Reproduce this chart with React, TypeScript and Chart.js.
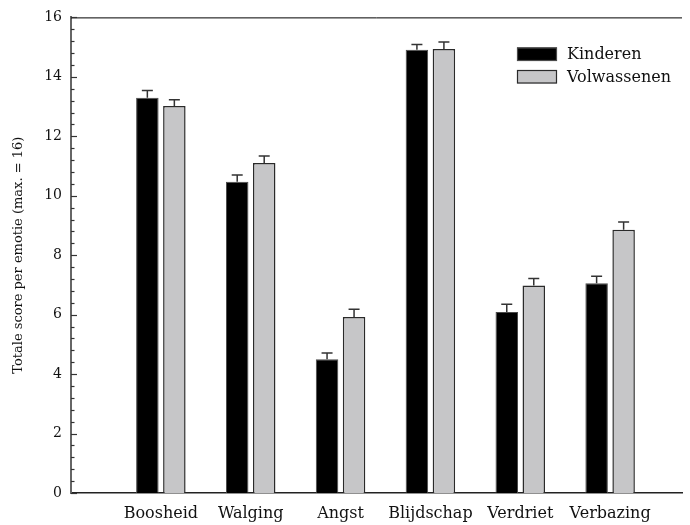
import React, { useEffect, useRef } from 'react';
import { Chart, registerables } from 'chart.js';

Chart.register(...registerables);

const categories = ['Boosheid', 'Walging', 'Angst', 'Blijdschap', 'Verdriet', 'Verbazing'];
const seriesNames = ['Kinderen', 'Volwassenen'];
const kinderen = [13.3, 10.47, 4.5, 14.91, 6.09, 7.06];
const kinderenErr = [0.24, 0.23, 0.21, 0.18, 0.26, 0.23];
const volwassenen = [13.02, 11.1, 5.92, 14.94, 6.98, 8.86];
const volwassenenErr = [0.21, 0.24, 0.26, 0.23, 0.24, 0.26];
const yTickValues = [0, 2, 4, 6, 8, 10, 12, 14, 16];
const yTitle = 'Totale score per emotie (max. = 16)';

const FONT = "'DejaVu Serif', serif";
const fills = ['#000000', '#c6c6c8'];
const borders = ['#4a4a4a', '#2a2a2a'];

const errorBarsPlugin = {
  id: 'errorBars',
  afterDatasetsDraw(chart: any) {
    const ctx = chart.ctx;
    const y = chart.scales.y;
    chart.data.datasets.forEach((ds: any, di: number) => {
      const meta = chart.getDatasetMeta(di);
      meta.data.forEach((bar: any, i: number) => {
        const v = ds.data[i].y;
        const e = ds.errors[i];
        const yTop = y.getPixelForValue(v + e);
        ctx.save();
        ctx.strokeStyle = '#333';
        ctx.lineWidth = 1.5;
        ctx.beginPath();
        ctx.moveTo(bar.x, bar.y);
        ctx.lineTo(bar.x, yTop);
        ctx.moveTo(bar.x - 5.5, yTop);
        ctx.lineTo(bar.x + 5.5, yTop);
        ctx.stroke();
        ctx.restore();
      });
    });
  },
};

const framePlugin = {
  id: 'frame',
  afterDraw(chart: any) {
    const ctx = chart.ctx;
    const a = chart.chartArea;
    const y = chart.scales.y;
    ctx.save();
    // top line
    ctx.strokeStyle = '#000';
    ctx.lineWidth = 1;
    ctx.beginPath();
    ctx.moveTo(a.left, a.top + 0.5);
    ctx.lineTo(a.right, a.top + 0.5);
    ctx.stroke();
    // inward ticks
    ctx.strokeStyle = '#333';
    ctx.lineWidth = 1.2;
    for (let k = 0; k <= 40; k++) {
      const v = k * 0.4;
      const py = Math.round(y.getPixelForValue(v)) + 0.5;
      const len = k % 5 === 0 ? 6 : 3.5;
      ctx.beginPath();
      ctx.moveTo(a.left, py);
      ctx.lineTo(a.left + len, py);
      ctx.stroke();
    }
    // legend
    const bx = 517;
    const rows = [47.5, 70];
    chart.data.datasets.forEach((ds: any, i: number) => {
      const by = rows[i];
      ctx.fillStyle = ds.backgroundColor;
      ctx.fillRect(bx, by, 40, 13.5);
      ctx.strokeStyle = ds.borderColor;
      ctx.lineWidth = 1.2;
      ctx.strokeRect(bx + 0.5, by + 0.5, 39, 12.5);
      ctx.fillStyle = '#111';
      ctx.font = `16px ${FONT}`;
      ctx.textBaseline = 'middle';
      ctx.textAlign = 'left';
      ctx.fillText(ds.label, bx + 50, by + 7.5);
    });
    ctx.restore();
  },
};

export default function App() {
  const ref = useRef<HTMLCanvasElement | null>(null);

  useEffect(() => {
    if (!ref.current) return;
    const mk = (vals: number[]) => vals.map((v, i) => ({ x: i + 1, y: v }));
    const chart = new Chart(ref.current, {
      type: 'bar',
      data: {
        datasets: [
          {
            label: seriesNames[0],
            data: mk(kinderen),
            errors: kinderenErr,
            backgroundColor: fills[0],
            borderColor: borders[0],
            borderWidth: 1,
          } as any,
          {
            label: seriesNames[1],
            data: mk(volwassenen),
            errors: volwassenenErr,
            backgroundColor: fills[1],
            borderColor: borders[1],
            borderWidth: 1.5,
          } as any,
        ],
      },
      options: {
        responsive: false,
        animation: false,
        devicePixelRatio: 1,
        categoryPercentage: 0.601,
        barPercentage: 0.833,
        layout: { padding: { top: 17, right: 8, left: 0, bottom: 0 } },
        plugins: {
          legend: { display: false },
          tooltip: { enabled: false },
        },
        scales: {
          x: {
            type: 'linear',
            min: 0,
            max: 6.8,
            offset: false,
            afterBuildTicks: (s: any) => {
              s.ticks = categories.map((_, i) => ({ value: i + 1 }));
            },
            afterFit: (s: any) => {
              s.height = 32;
            },
            ticks: {
              autoSkip: false,
              maxRotation: 0,
              padding: 11,
              color: '#111',
              font: { family: FONT, size: 16 },
              callback: (v: any) => categories[Math.round(Number(v)) - 1] ?? '',
            },
            grid: { display: false, drawTicks: false, offset: false },
            border: { display: true, color: '#222', width: 1.5 },
          },
          y: {
            type: 'linear',
            min: 0,
            max: 16,
            afterBuildTicks: (s: any) => {
              s.ticks = yTickValues.map((v) => ({ value: v }));
            },
            afterFit: (s: any) => {
              s.width = 71;
            },
            ticks: {
              padding: 9,
              color: '#111',
              font: { family: FONT, size: 14 },
            },
            grid: { display: false, drawTicks: false },
            border: { display: true, color: '#666', width: 2 },
            title: {
              display: true,
              text: yTitle,
              color: '#111',
              font: { family: FONT, size: 13 },
              padding: { top: 11, bottom: 0 },
            },
          },
        },
      } as any,
      plugins: [errorBarsPlugin, framePlugin],
    });
    return () => chart.destroy();
  }, []);

  return (
    <div style={{ position: 'fixed', left: 0, top: 0, width: 690, height: 525, background: '#fff' }}>
      <canvas ref={ref} width={690} height={525} style={{ display: 'block' }} />
    </div>
  );
}
